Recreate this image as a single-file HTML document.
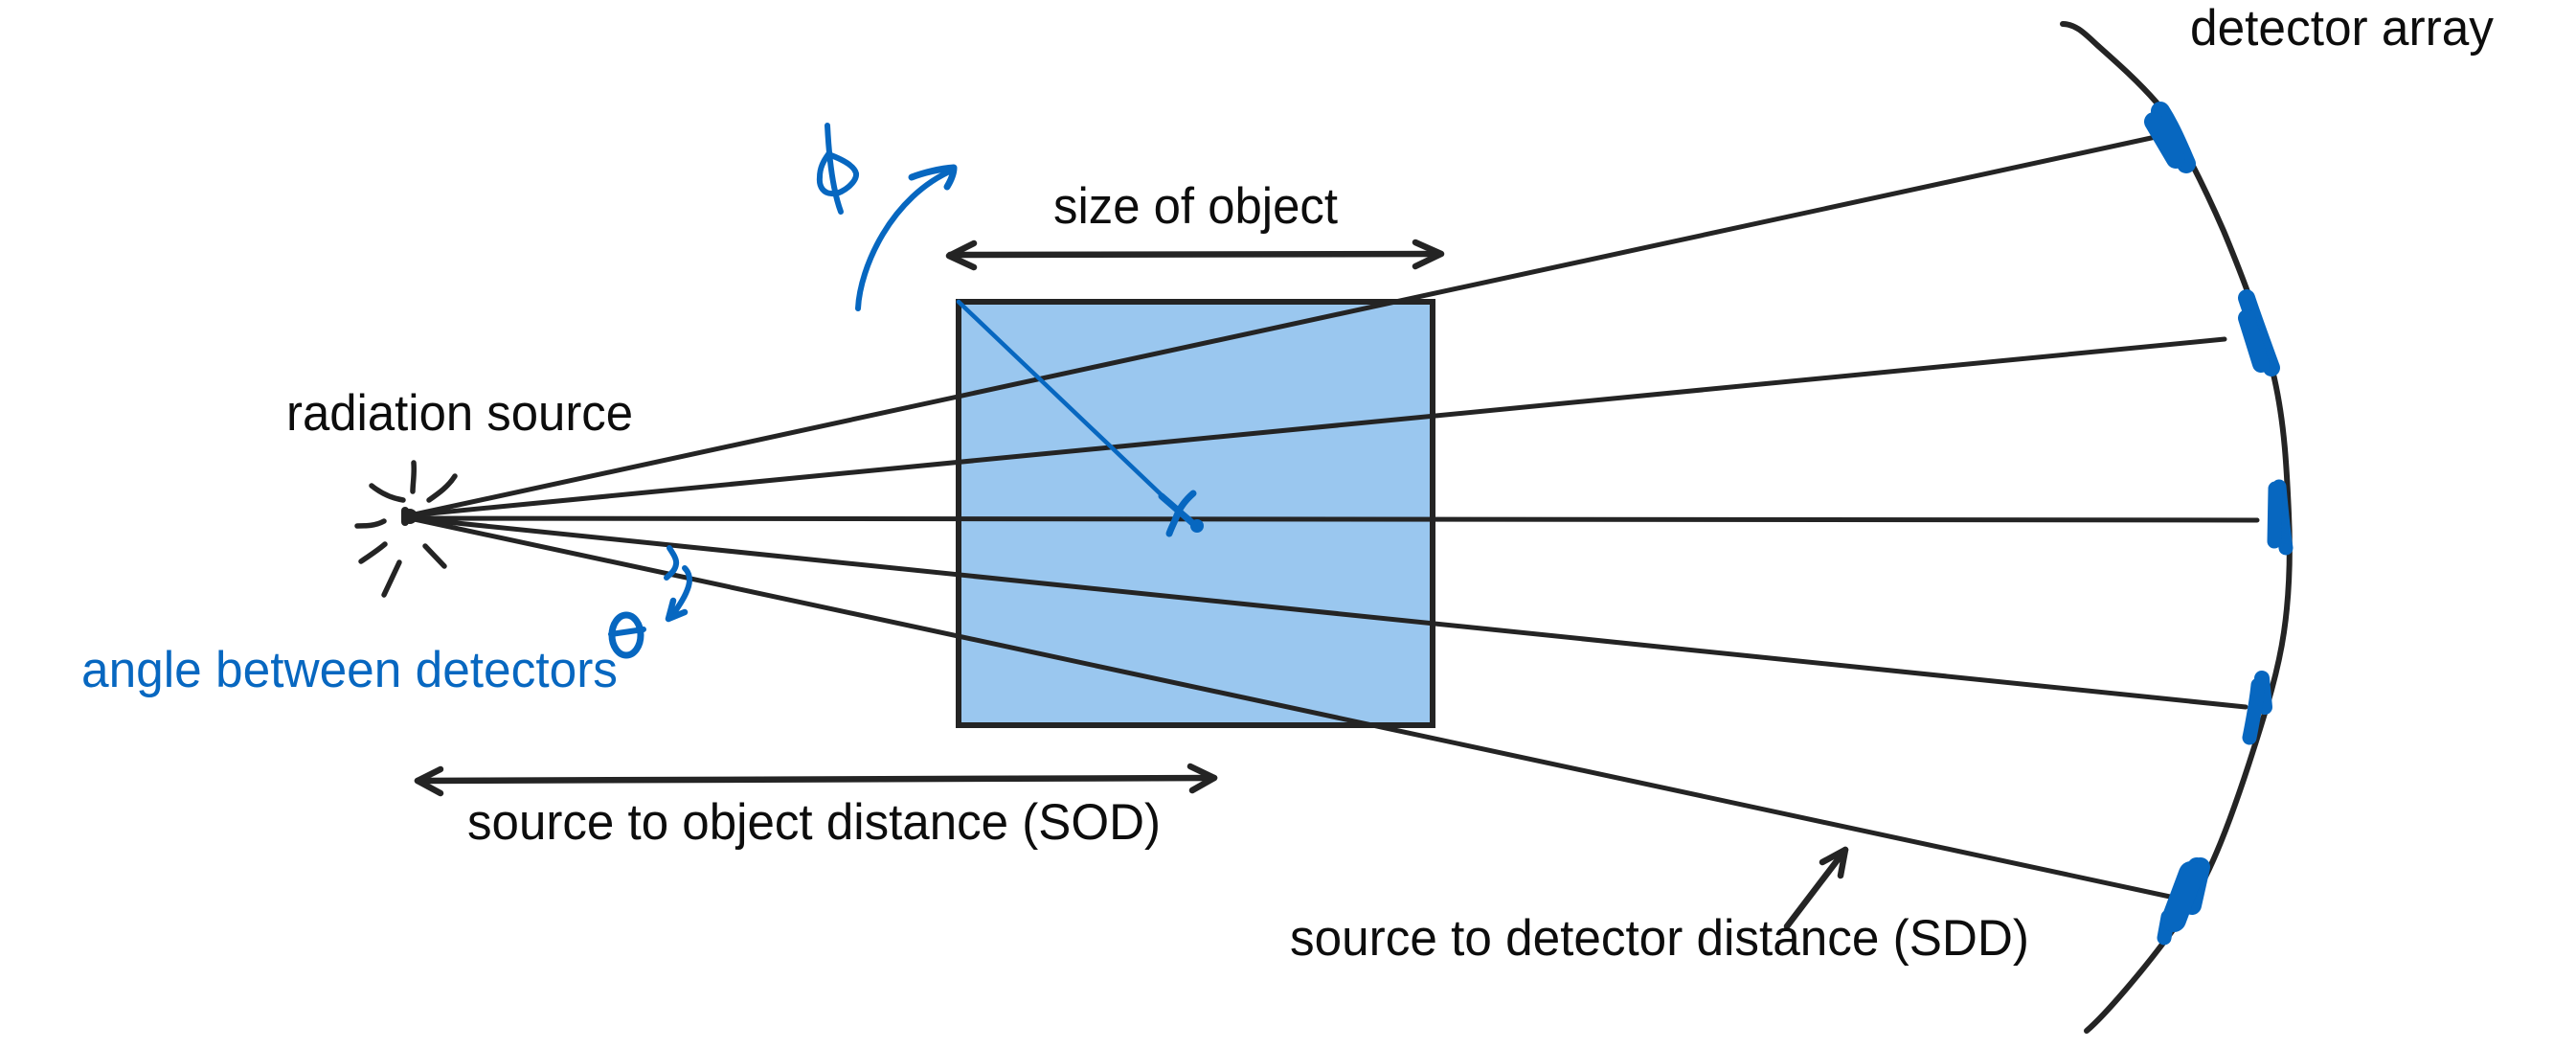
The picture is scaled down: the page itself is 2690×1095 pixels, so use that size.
<!DOCTYPE html>
<html><head><meta charset="utf-8"><style>html,body{margin:0;padding:0;background:#fff;width:2690px;height:1095px;overflow:hidden}svg{display:block}text{font-family:"Liberation Sans",sans-serif;font-size:53px;fill:#0d0d0d}.k{fill:none;stroke:#242424;stroke-linecap:round;stroke-linejoin:round}.b{fill:none;stroke:#0767c0;stroke-linecap:round;stroke-linejoin:round}</style></head><body>
<svg width="2690" height="1095" viewBox="0 0 2690 1095" xmlns="http://www.w3.org/2000/svg">
<rect width="2690" height="1095" fill="#fff"/>
<rect x="1001" y="315" width="495" height="442" fill="#9ac7ef" stroke="#242424" stroke-width="6"/>
<g class="k" stroke-width="5">
<path d="M428 538L2251 143"/><path d="M428 538L2323 354"/><path d="M428 541L2357 543"/><path d="M428 541L2345 738"/><path d="M428 541L2266 936"/>
</g>
<path class="k" stroke-width="6" d="M2154 25C2168 25 2178 36 2190 47C2208 63 2232 84 2252 107C2274 139 2301 193 2322 241C2342 289 2364 346 2375 395C2386 444 2388 492 2390 536C2392 580 2391 619 2385 660C2379 701 2367 739 2354 780C2341 821 2323 873 2307 907C2291 941 2281 955 2260 983C2239 1011 2200 1058 2179 1076"/>
<g class="k" stroke-width="8"><path d="M423 533L423 545"/></g>
<circle cx="428" cy="539" r="8" fill="#242424"/>
<g class="k" stroke-width="5.5">
<path d="M432 483C433 495 431 505 431 513"/><path d="M475 497C468 508 458 515 448 522"/><path d="M388 507C398 515 408 520 421 522"/><path d="M373 549C382 549 392 549 401 544"/><path d="M402 568C395 574 386 580 377 586"/><path d="M417 587L401 621"/><path d="M444 570L464 591"/>
</g>
<g class="k" stroke-width="6.5">
<path d="M992 266L1503 265"/><path d="M1017 254L991 267L1017 279"/><path d="M1478 253L1505 265L1478 278"/>
<path d="M436 815L1268 812"/><path d="M460 803L436 815L460 828"/><path d="M1243 800L1268 812L1245 825"/>
<path d="M1866 967L1927 887"/><path d="M1903 900L1927 887L1922 914"/>
</g>
<g class="b" stroke-width="6">
<path d="M1001 315L1250 552" stroke-width="4.5"/>
<path d="M1213 518L1250 550" stroke-width="7"/>
<path d="M1246 515C1238 522 1232 530 1229 538C1226 546 1223 551 1221 557" stroke-width="7"/>
<circle cx="1250" cy="549" r="4" fill="#0767c0"/>
<path d="M864 131C865 150 867 175 871 195C873 205 875 213 878 221"/>
<path d="M865 161C876 165 892 172 894 181C895 190 880 202 871 202C860 203 855 195 856 185C856 175 860 168 865 161"/>
<path d="M896 322C898 280 930 205 996 177"/>
<path d="M952 185C965 180 982 176 996 175C996 182 992 190 989 195" stroke-width="7"/>
<path d="M699 572C703 578 707 584 706 589C705 596 700 599 696 603"/>
<path d="M715 593C720 598 721 605 719 612C716 622 710 631 703 641"/>
<path d="M703 627L698 646L715 639" stroke-width="6.5"/>
<ellipse cx="654" cy="663" rx="15" ry="21" stroke-width="7"/>
<path d="M638 662L672 657" stroke-width="6"/>
</g>
<g class="b" stroke-width="20">
<path d="M2256 116C2268 135 2276 155 2283 171"/><path d="M2249 127L2272 166"/>
<path d="M2346 311C2354 335 2364 362 2372 384" stroke-width="18"/><path d="M2346 332L2361 380" stroke-width="18"/>
<path d="M2380 508C2382 530 2384 552 2387 572" stroke-width="15"/><path d="M2376 510L2375 565" stroke-width="15"/>
<path d="M2362 708L2365 738" stroke-width="16"/><path d="M2358 715C2356 735 2352 755 2349 770" stroke-width="15"/>
<path d="M2294 905L2268 958"/><path d="M2298 905L2289 945" stroke-width="20"/><path d="M2264 957L2260 979" stroke-width="15"/><path d="M2288 912L2270 960" stroke-width="26"/>
</g>
<text x="299" y="449" textLength="362" lengthAdjust="spacingAndGlyphs">radiation source</text>
<text x="85" y="717" textLength="560" lengthAdjust="spacingAndGlyphs" style="fill:#0767c0">angle between detectors</text>
<text x="1100" y="233" textLength="297" lengthAdjust="spacingAndGlyphs">size of object</text>
<text x="488" y="876" textLength="724" lengthAdjust="spacingAndGlyphs">source to object distance (SOD)</text>
<text x="1347" y="997" textLength="772" lengthAdjust="spacingAndGlyphs">source to detector distance (SDD)</text>
<text x="2287" y="47" textLength="317" lengthAdjust="spacingAndGlyphs">detector array</text>
</svg>
</body></html>
